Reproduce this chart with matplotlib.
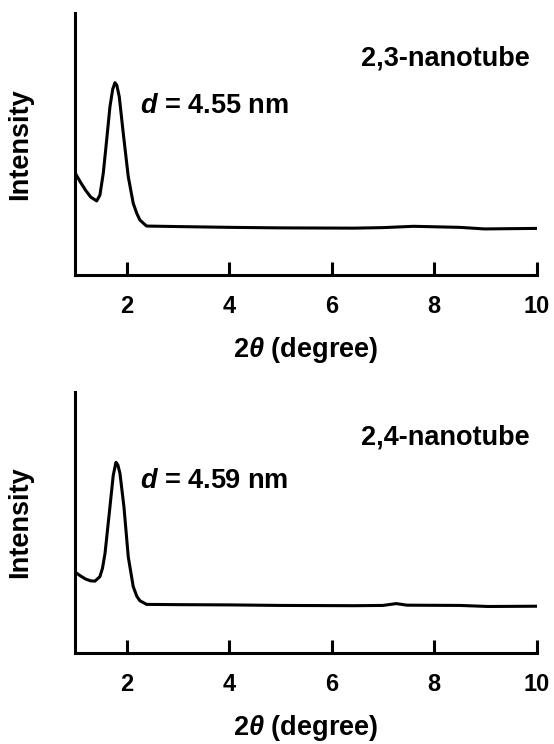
import matplotlib
matplotlib.use("Agg")
import matplotlib.pyplot as plt

plt.rcParams["font.family"] = ["Liberation Sans", "DejaVu Sans"]
plt.rcParams["font.weight"] = "bold"
plt.rcParams["mathtext.fontset"] = "custom"
plt.rcParams["mathtext.rm"] = "Liberation Sans:bold"
plt.rcParams["mathtext.it"] = "Liberation Sans:italic:bold"
plt.rcParams["mathtext.bf"] = "Liberation Sans:bold"
plt.rcParams["mathtext.sf"] = "Liberation Sans:italic"

# XRD patterns, values (arbitrary intensity units)
x_23 = [1.0, 1.1, 1.2, 1.3, 1.417, 1.48, 1.546, 1.612, 1.676, 1.73, 1.774, 1.81,
        1.858, 1.936, 2.033, 2.13, 2.2, 2.26, 2.39, 3.0, 4.03, 5.0, 6.44, 7.0,
        7.6, 8.5, 8.98, 10.0]
y_23 = [38.9, 35.5, 32.4, 29.8, 28.3, 30.5, 38.9, 51.6, 64.3, 71.0, 73.5, 72.5,
        68.1, 54.1, 37.6, 27.4, 23.5, 21.0, 18.7, 18.5, 18.2, 18.0, 17.9, 18.1,
        18.6, 18.2, 17.6, 17.8]

x_24 = [1.0, 1.1, 1.2, 1.3, 1.384, 1.48, 1.53, 1.58, 1.676, 1.74, 1.793, 1.83,
        1.871, 1.949, 2.033, 2.13, 2.2, 2.26, 2.39, 3.0, 4.03, 5.0, 6.44, 7.0,
        7.26, 7.47, 8.5, 9.05, 10.0]
y_24 = [31.0, 29.6, 28.4, 27.7, 27.6, 29.3, 32.5, 38.2, 56.0, 68.0, 73.0, 72.0,
        68.8, 56.0, 36.9, 25.5, 21.8, 20.1, 18.7, 18.6, 18.5, 18.3, 18.2, 18.3,
        19.0, 18.4, 18.3, 17.9, 18.0]

samples = ["2,3-nanotube", "2,4-nanotube"]
spacings = ["4.55", "4.59"]
xticks = [2, 4, 6, 8, 10]

fig = plt.figure(figsize=(5.54, 7.44), dpi=100)
ax1 = fig.add_axes([0.1359, 0.6304, 0.8329, 0.3517])
ax2 = fig.add_axes([0.1359, 0.1219, 0.8329, 0.3516])

name_y = [0.802, 0.798]
d_y = [0.618, 0.631]

for i, (ax, xs, ys) in enumerate(zip([ax1, ax2], [x_23, x_24], [y_23, y_24])):
    ax.plot(xs, ys, color="black", lw=2.2)
    ax.set_xlim(1, 10)
    ax.set_ylim(0, 100)
    ax.spines["top"].set_visible(False)
    ax.spines["right"].set_visible(False)
    ax.spines["left"].set_linewidth(2.2)
    ax.spines["bottom"].set_linewidth(2.2)
    ax.set_yticks([])
    ax.set_xticks(xticks)
    ax.tick_params(axis="x", direction="in", length=9.5, width=2.2, pad=14.5, labelsize=17)
    for lab in ax.get_xticklabels():
        lab.set_fontweight("bold")
    ax.set_xlabel(r"2$\mathsf{\theta}$ (degree)", fontsize=19.5, fontweight="bold")
    ax.xaxis.set_label_coords(0.5, -0.230)
    ax.set_ylabel("Intensity", fontsize=19.5, fontweight="bold")
    ax.yaxis.set_label_coords(-0.091, 0.5)
    ax.text(0.9855, name_y[i], samples[i], transform=ax.transAxes, ha="right",
            va="baseline", fontsize=19.5, fontweight="bold")
    ax.text(0.140, d_y[i], r"$d$ = " + spacings[i] + " nm", transform=ax.transAxes,
            ha="left", va="baseline", fontsize=19.5, fontweight="bold")

fig.savefig("out.png", dpi=100)
